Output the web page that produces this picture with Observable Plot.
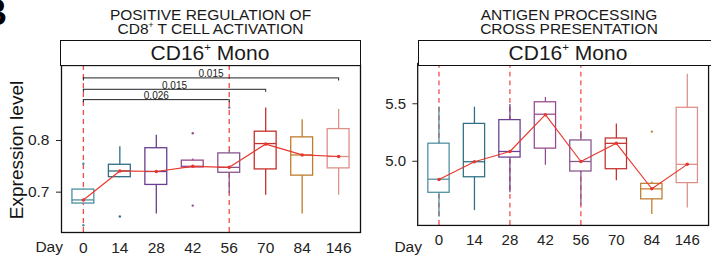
<!DOCTYPE html>
<html><head><meta charset="utf-8">
<script src="https://cdn.jsdelivr.net/npm/d3@7"></script>
<script src="https://cdn.jsdelivr.net/npm/@observablehq/plot@0.6"></script>
<style>
html,body{margin:0;padding:0;background:#fff;}
#wrap{position:relative;width:711px;height:262px;overflow:hidden;font-family:"Liberation Sans",Arial,sans-serif;color:#1a1a1a;background:#fff;}
.abs{position:absolute;}
.title{font-size:15.5px;line-height:14px;height:14px;text-align:center;white-space:nowrap;}
.strip{border:1.3px solid #111;box-sizing:border-box;background:#fff;font-size:21px;line-height:23px;white-space:nowrap;}
.strip span.t{display:inline-block;text-align:center;}
sup{font-size:0.55em;line-height:0;vertical-align:0.75em;}
.day{font-size:15.5px;line-height:18px;text-align:right;width:40px;color:#222;}
</style></head><body><div id="wrap"></div>
<script>
// ---- data ----
const days = ["0", "14", "28", "42", "56", "70", "84", "146"];
const boxColors = ["#4b8fa0", "#2e6f82", "#6a3e90", "#944a8c", "#86568a", "#c4312c", "#c07c2e", "#dd9088"];

// Panel 1: POSITIVE REGULATION OF CD8+ T CELL ACTIVATION
const p1Min    = [0.677, 0.728, 0.658, 0.747, 0.697, 0.694, 0.658, 0.694];
const p1Q1     = [0.678, 0.729, 0.714, 0.748, 0.7375, 0.744, 0.732, 0.746];
const p1Median = [0.685, 0.741, 0.740, 0.750, 0.748, 0.794, 0.772, 0.769];
const p1Q3     = [0.705, 0.753, 0.785, 0.761, 0.775, 0.817, 0.806, 0.822];
const p1Max    = [0.706, 0.788, 0.810, 0.764, 0.780, 0.863, 0.840, 0.860];
const p1Mean   = [0.685, 0.741, 0.740, 0.750, 0.748, 0.793, 0.772, 0.769];
const p1OutDay = ["0", "0", "14", "42", "42", "56"];
const p1OutVal = [0.755, 0.636, 0.653, 0.814, 0.674, 0.864];
const p1Dashed = ["0", "56"];
const p1YTicks = [0.7, 0.8];
const p1YDomain = [0.622, 0.945];

// significance brackets (panel 1)
const sigFrom  = ["0", "0", "0"];
const sigTo    = ["146", "70", "56"];
const sigY     = [0.921, 0.899, 0.879];
const sigLabel = ["0.015", "0.015", "0.026"];

// Panel 2: ANTIGEN PROCESSING CROSS PRESENTATION
const p2Min    = [4.515, 4.571, 4.726, 4.965, 4.613, 4.830, 4.537, 4.594];
const p2Q1     = [4.726, 4.861, 5.032, 5.110, 4.911, 4.931, 4.669, 4.810];
const p2Median = [4.844, 4.996, 5.085, 5.409, 4.998, 5.156, 4.760, 4.973];
const p2Q3     = [5.153, 5.325, 5.358, 5.513, 5.181, 5.198, 4.804, 5.465];
const p2Max    = [5.470, 5.470, 5.493, 5.555, 5.260, 5.325, 4.819, 5.757];
const p2Mean   = [4.841, 4.996, 5.085, 5.405, 4.998, 5.156, 4.761, 4.973];
const p2OutDay = ["84"];
const p2OutVal = [5.257];
const p2Dashed = ["0", "28", "56"];
const p2YTicks = [5.0, 5.5];
const p2YDomain = [4.442, 5.850];

// ---- drawing ----
const idx = d => days.indexOf(d);
const RED = "#e8382e";
const FONT = "'Liberation Sans', Arial, sans-serif";

function panel(o) {
  const stats = days.map((d, i) => ({i, day: d, min: o.min[i], q1: o.q1[i], median: o.median[i], q3: o.q3[i], max: o.max[i], mean: o.mean[i]}));
  const outs = o.outDay.map((d, k) => ({i: idx(d), v: o.outVal[k]}));
  const marks = [
    Plot.ruleX(o.dashed.map(idx), {x: d => d, stroke: "#f04a45", strokeDasharray: "5,4", strokeWidth: 1.3}),
    Plot.ruleX(stats, {x: "i", y1: "min", y2: "max", stroke: "i", strokeWidth: 1.3}),
    Plot.rect(stats, {x1: d => d.i - 0.3, x2: d => d.i + 0.3, y1: "q1", y2: "q3", fill: "white", stroke: "i", strokeWidth: 1.3}),
    Plot.ruleY(stats, {y: "median", x1: d => d.i - 0.3, x2: d => d.i + 0.3, stroke: "i", strokeWidth: 1.3}),
    Plot.dot(outs, {x: "i", y: "v", r: 1.2, fill: "i", stroke: null}),
    Plot.line(stats, {x: "i", y: "mean", stroke: RED, strokeWidth: 1.2}),
    Plot.dot(stats, {x: "i", y: "mean", r: 1.8, fill: RED, stroke: null})
  ];
  if (o.sig) {
    const s = o.sig;
    marks.push(
      Plot.ruleY(s, {y: "y", x1: d => idx(d.from), x2: d => idx(d.to), stroke: "#222", strokeWidth: 1}),
      Plot.ruleX(s, {x: d => idx(d.from), y1: "y", y2: d => d.y - 0.006, stroke: "#222", strokeWidth: 1}),
      Plot.ruleX(s, {x: d => idx(d.to), y1: "y", y2: d => d.y - 0.006, stroke: "#222", strokeWidth: 1}),
      Plot.text(s, {x: d => (idx(d.from) + idx(d.to)) / 2, y: "y", text: "label", lineAnchor: "bottom", dy: -0.5, fontSize: 10, fill: "#222"})
    );
  }
  marks.push(Plot.frame({stroke: "#111", strokeWidth: 1.3}));
  return Plot.plot({
    width: o.width, height: 262,
    marginTop: 65, marginBottom: 30, marginLeft: o.ml, marginRight: o.mr,
    style: {fontSize: "15.5px", fontFamily: FONT, color: "#222", background: "transparent", overflow: "visible"},
    x: {domain: [-0.6, 7.6], ticks: d3.range(days.length), tickFormat: i => days[i], tickSize: 0, tickPadding: 9, label: null},
    y: {domain: o.yDomain, ticks: o.yTicks, tickFormat: ".1f", tickSize: 5, tickPadding: 7, label: null},
    color: {type: "ordinal", domain: d3.range(days.length), range: boxColors},
    marks
  });
}

const sig = sigFrom.map((f, k) => ({from: f, to: sigTo[k], y: sigY[k], label: sigLabel[k]}));

const wrap = document.getElementById("wrap");
function place(el, left, top) {
  const d = document.createElement("div");
  d.className = "abs";
  d.style.left = left + "px"; d.style.top = top + "px";
  d.appendChild(el);
  wrap.appendChild(d);
  return d;
}

const svg1 = panel({min: p1Min, q1: p1Q1, median: p1Median, q3: p1Q3, max: p1Max, mean: p1Mean,
  outDay: p1OutDay, outVal: p1OutVal, dashed: p1Dashed, yTicks: p1YTicks, yDomain: p1YDomain,
  sig, width: 362, ml: 61, mr: 2});
place(svg1, 0, 0);

const svg2 = panel({min: p2Min, q1: p2Q1, median: p2Median, q3: p2Q3, max: p2Max, mean: p2Mean,
  outDay: p2OutDay, outVal: p2OutVal, dashed: p2Dashed, yTicks: p2YTicks, yDomain: p2YDomain,
  width: 362, ml: 59, mr: 3});
place(svg2, 360, 0);

function html(s, cls, left, top, css) {
  const d = document.createElement("div");
  d.className = "abs " + (cls || "");
  d.style.left = left + "px"; d.style.top = top + "px";
  if (css) Object.assign(d.style, css);
  d.innerHTML = s;
  wrap.appendChild(d);
  return d;
}

// titles
html("POSITIVE REGULATION OF", "title", 60, 8, {width: "301px"});
html("CD8<sup>+</sup> T CELL ACTIVATION", "title", 60, 22, {width: "301px"});
html("ANTIGEN PROCESSING", "title", 419, 8, {width: "300px"});
html("CROSS PRESENTATION", "title", 419, 22, {width: "300px"});
// strips
html('<span class="t" style="width:298px">CD16<sup>+</sup> Mono</span>', "strip", 60, 40, {width: "301px", height: "26px"});
html('<span class="t" style="width:298px">CD16<sup>+</sup> Mono</span>', "strip", 418, 40, {width: "302px", height: "26px"});
// Day labels
html("Day", "day", 23, 238);
html("Day", "day", 382, 238);
// y title
html("Expression level", "", -83, 139, {width: "200px", textAlign: "center", fontSize: "19px", lineHeight: "22px", transform: "rotate(-90deg)", color: "#111"});
// panel letter
html("B", "", -19, -8, {fontSize: "36px", fontWeight: "bold", color: "#000"});
</script>
</body></html>
